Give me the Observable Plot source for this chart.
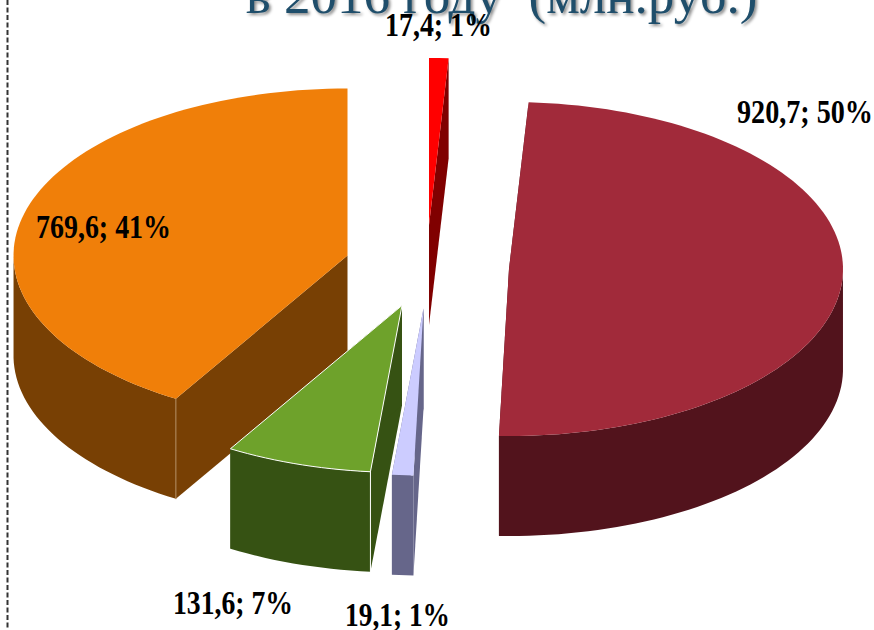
<!DOCTYPE html>
<html><head><meta charset="utf-8">
<style>html,body{margin:0;padding:0;background:#fff}svg{display:block}</style>
<script src="https://cdn.jsdelivr.net/npm/d3@7"></script>
<script src="https://cdn.jsdelivr.net/npm/@observablehq/plot@0.6"></script>
</head><body><div id="chart"></div>
<script>
// Data, clockwise from 12 o'clock
const values   = [17.4, 920.7, 19.1, 131.6, 769.6];
const percents = [1, 50, 1, 7, 41];
const titleText = "в 2016 году \u00a0(млн.руб.)";

// Styles
const topColors  = ["#ff0000", "#a12a3a", "#ccccff", "#6ea22b", "#f07f09"];
const sideColors = ["#800000", "#52131c", "#66668a", "#365213", "#784004"];
const edgeColors = ["none", "none", "none", "#ffffff", "#b08a60"];

// Layout
const base = [430, 262], rx = 334, ry = 167, depth = 100;
const explodeX = [-1.5, 78.5, -7, -28.5, -83];
const explodeY = [-37.5, 6.5, 46, 43, -7];
const labelX = [438, 804.5, 397, 232.5, 103];
const labelY = [25, 112, 615, 603, 227];
const labelW = [107, 136, 105, 120, 135];
const drawOrder = [4, 3, 2, 1, 0];

const label = i => `${String(values[i]).replace(".", ",")}; ${percents[i]}%`;
const total = d3.sum(values);
const angles = d3.cumsum(values).map(v => v / total * 2 * Math.PI);

function slice(i) {
  const a0 = i ? angles[i - 1] : 0, a1 = angles[i];
  const cx = base[0] + explodeX[i], cy = base[1] + explodeY[i];
  const at = (a, drop = 0) => ({x: cx + rx * Math.sin(a), y: cy - ry * Math.cos(a) + drop});
  const n = Math.max(2, Math.ceil((a1 - a0) / 0.03));
  const arc = d3.range(n + 1).map(k => a0 + (a1 - a0) * k / n);
  const centre = {x: cx, y: cy}, centreLow = {x: cx, y: cy + depth};
  const front = arc.filter(a => Math.cos(a) <= 0);
  return {
    top: [centre, ...arc.map(a => at(a)), centre],
    face0: [centre, at(a0), at(a0, depth), centreLow],
    face1: [centre, at(a1), at(a1, depth), centreLow],
    wall: front.length ? [...front.map(a => at(a)), ...front.slice().reverse().map(a => at(a, depth))] : [],
    edge: [at(a0), at(a0, depth)]
  };
}

const poly = (pts, fill, stroke = "none", strokeWidth = 0) =>
  Plot.line(pts, {x: "x", y: "y", fill, stroke, strokeWidth, curve: "linear-closed"});

const marks = [
  Plot.ruleX([7], {y1: 0, y2: 630, stroke: "#333", strokeWidth: 2, strokeDasharray: "5 2.5"}),
  Plot.text([titleText], {
    x: 501, y: 12, text: d => d, lineAnchor: "bottom", textAnchor: "middle",
    fontFamily: "Liberation Serif", fontSize: 53, fill: "#1f4e6b",
    imageFilter: "drop-shadow(2px 2px 1.5px rgba(0,0,0,.45))"
  })
];
for (const i of drawOrder) {
  const s = slice(i);
  marks.push(
    poly(s.face0, sideColors[i]),
    poly(s.face1, sideColors[i]),
    poly(s.wall, sideColors[i]),
    Plot.line(s.edge, {x: "x", y: "y", stroke: edgeColors[i], strokeWidth: 1}),
    poly(s.top, topColors[i], edgeColors[i] === "#ffffff" ? "#ffffff" : "none", 1)
  );
}
marks.push(Plot.text(values.map((_, i) => i), {
  x: i => labelX[i], y: i => labelY[i], text: label,
  fontFamily: "Liberation Serif", fontWeight: "bold", fontSize: 33, fill: "#000",
  textAnchor: "middle", lineAnchor: "middle"
}));

const chart = Plot.plot({
  width: 874, height: 630, margin: 0,
  style: {background: "#fff", overflow: "hidden"},
  x: {domain: [0, 874], range: [0, 874], axis: null},
  y: {domain: [0, 630], range: [0, 630], axis: null},
  marks
});
const labelTexts = values.map((_, i) => label(i));
d3.select(chart).selectAll("text").each(function () {
  const k = labelTexts.indexOf(this.textContent);
  if (k >= 0) d3.select(this).attr("textLength", labelW[k]).attr("lengthAdjust", "spacingAndGlyphs");
});
document.getElementById("chart").append(chart);
</script></body></html>
